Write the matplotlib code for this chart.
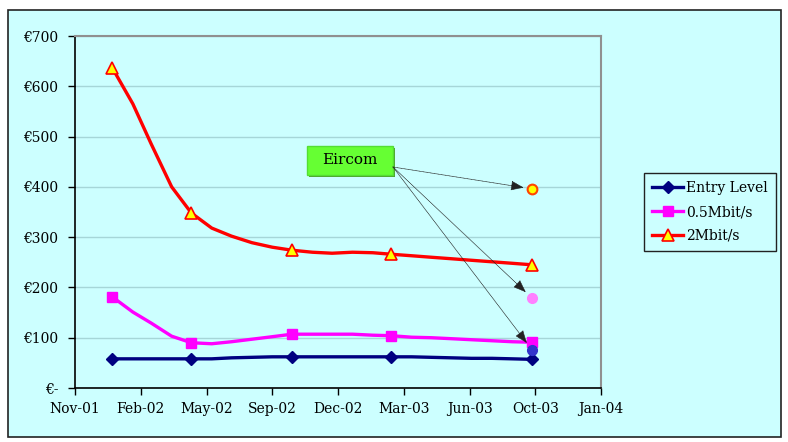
import matplotlib
matplotlib.use("Agg")
import matplotlib.pyplot as plt
import matplotlib.dates as mdates
import matplotlib.patches as mpatches
import datetime as dt

plt.rcParams['font.family'] = ['DejaVu Serif']

# monthly dates Jan-02 .. Oct-03
months = ["2002-01", "2002-02", "2002-03", "2002-04", "2002-05", "2002-06", "2002-07",
          "2002-08", "2002-09", "2002-10", "2002-11", "2002-12", "2003-01", "2003-02",
          "2003-03", "2003-04", "2003-05", "2003-06", "2003-07", "2003-08", "2003-09", "2003-10"]
entry_level = [58, 58, 58, 58, 58, 58, 60, 61, 62, 62, 62, 62, 62, 62,
               62, 62, 61, 60, 59, 59, 58, 57]
mbit05 = [181, 151, 129, 103, 90, 88, 92, 97, 102, 107, 107, 107, 107, 105,
          104, 101, 100, 98, 96, 94, 92, 91]
mbit2 = [636, 565, 485, 400, 348, 318, 302, 289, 280, 274, 270, 268, 270, 269,
         266, 263, 260, 257, 254, 251, 248, 245]
marker_idx = [0, 4, 9, 14, 21]

eircom_date = "2003-10"
eircom_vals = [396, 179, 76]

series_names = ["Entry Level", "0.5Mbit/s", "2Mbit/s"]
y_ticks = [0, 100, 200, 300, 400, 500, 600, 700]
y_labels = ["€-", "€100", "€200", "€300", "€400", "€500", "€600", "€700"]

axis_start = dt.date(2001, 11, 5)
tick_step_days = 100
n_steps = 8

def to_date(s):
    y, m = s.split("-")
    return dt.date(int(y), int(m), 1)

x = [to_date(m) for m in months]

W, H = 788, 442
fig = plt.figure(figsize=(W / 100, H / 100), dpi=100)
fig.patch.set_facecolor("white")
bg = "#CCFFFF"
fig.patches.append(mpatches.Rectangle((8 / W, 1 - 437 / H), 773 / W, 427 / H,
                                      transform=fig.transFigure, facecolor=bg,
                                      edgecolor="#222222", linewidth=1.2, zorder=-10))

ax = fig.add_axes([75 / W, 1 - 388 / H, (601 - 75) / W, (388 - 36) / H])
ax.set_facecolor(bg)

ax.plot(x, entry_level, color="#000080", lw=2.4, marker="D", ms=6,
        markevery=marker_idx, mfc="#000080", mec="#000080", label=series_names[0], zorder=3)
ax.plot(x, mbit05, color="#FF00FF", lw=2.4, marker="s", ms=7.5,
        markevery=marker_idx, mfc="#FF00FF", mec="#FF00FF", label=series_names[1], zorder=3)
ax.plot(x, mbit2, color="#FF0000", lw=2.4, marker="^", ms=8,
        markevery=marker_idx, mfc="#FFFF00", mec="#FF0000", mew=1.2,
        label=series_names[2], zorder=3)

ed = to_date(eircom_date)
ax.plot([ed], [eircom_vals[0]], "o", ms=7, mfc="#FFFF00", mec="#FF4400", mew=1.5, zorder=4)
ax.plot([ed], [eircom_vals[1]], "o", ms=7, mfc="#FF80FF", mec="#FF80FF", zorder=4)
ax.plot([ed], [eircom_vals[2]], "o", ms=7, mfc="#3333CC", mec="#3333CC", zorder=4)

end = axis_start + dt.timedelta(days=tick_step_days * n_steps)
ax.set_xlim(axis_start, end)
ticks = [axis_start + dt.timedelta(days=tick_step_days * k) for k in range(n_steps + 1)]
ax.set_xticks(ticks)
ax.xaxis.set_major_formatter(mdates.DateFormatter("%b-%y"))
ax.set_ylim(0, 700)
ax.set_yticks(y_ticks)
ax.set_yticklabels(y_labels)
ax.tick_params(axis="both", labelsize=10, length=5, width=1, direction="out", colors="black")
ax.tick_params(axis="x", pad=5)
ax.tick_params(axis="y", pad=7)
ax.grid(axis="y", color="#A6D6D8", lw=1)
ax.set_axisbelow(True)
for s in ["left", "bottom"]:
    ax.spines[s].set_color("black")
    ax.spines[s].set_linewidth(1.2)
for s in ["top", "right"]:
    ax.spines[s].set_color("#909090")
    ax.spines[s].set_linewidth(1.5)

# Eircom label + arrows
shadow = mpatches.Rectangle(((309 - 75) / 526, (388 - 177) / 352), 86 / 526, 29 / 352,
                            transform=ax.transAxes, facecolor="#4FA030", edgecolor="none",
                            zorder=5)
ax.add_patch(shadow)
boxr = mpatches.Rectangle(((307 - 75) / 526, (388 - 175) / 352), 86 / 526, 29 / 352,
                          transform=ax.transAxes, facecolor="#66FF33", edgecolor="#55DD33",
                          zorder=6)
ax.add_patch(boxr)
ax.text((350 - 75) / 526, (388 - 160) / 352, "Eircom", transform=ax.transAxes,
        ha="center", va="center", fontsize=11, zorder=7)

start = ((393 - 75) / 526, (388 - 167) / 352)
for v in eircom_vals:
    ax.annotate("", xy=(ed, v), xycoords="data", xytext=start, textcoords="axes fraction",
                arrowprops=dict(arrowstyle="-|>,head_length=0.8,head_width=0.3",
                                color="#222222", lw=0.5, linestyle=(0, (1, 1)),
                                shrinkA=0, shrinkB=6), zorder=8)

leg = ax.legend(loc="upper left", bbox_to_anchor=(644 / W, 1 - 173 / H),
                bbox_transform=fig.transFigure, borderaxespad=0, fontsize=10,
                frameon=True, fancybox=False, edgecolor="#222222", facecolor=bg,
                framealpha=1, handlelength=2.2, labelspacing=0.7, borderpad=0.6,
                handletextpad=0.25)
leg.get_frame().set_linewidth(1.0)

fig.savefig("out.png", dpi=100)
